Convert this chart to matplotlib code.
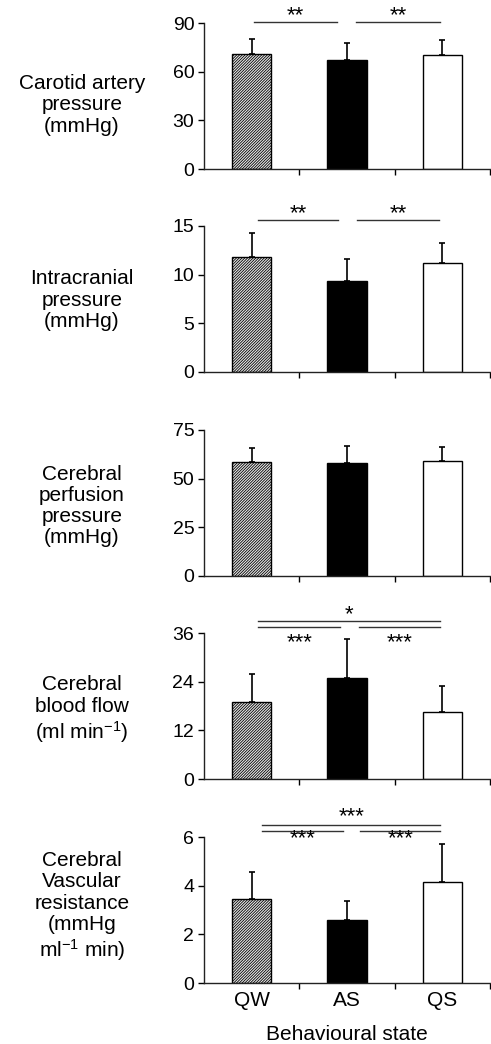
#Figura de barras: variables cerebrovasculares por estado conductual
import numpy as np
import matplotlib
matplotlib.use('Agg')
import matplotlib.pyplot as plt

plt.rcParams['font.family'] = ['Liberation Sans', 'DejaVu Sans']
plt.rcParams['mathtext.default'] = 'regular'
plt.rcParams['hatch.linewidth'] = 0.6

#datos
estados = ['QW', 'AS', 'QS']
etiquetas = ['Carotid artery\npressure\n(mmHg)',
             'Intracranial\npressure\n(mmHg)',
             'Cerebral\nperfusion\npressure\n(mmHg)',
             'Cerebral\nblood flow\n(ml min$^{-1}$)',
             'Cerebral\nVascular\nresistance\n(mmHg\nml$^{-1}$ min)']
cap = [70.8, 67.3, 70.2]
cap_err = [9.1, 10.3, 9.3]
icp = [11.8, 9.3, 11.2]
icp_err = [2.5, 2.35, 2.1]
cpp = [58.7, 58.2, 59.0]
cpp_err = [7.0, 8.7, 7.4]
cbf = [19.1, 25.0, 16.4]
cbf_err = [6.8, 9.5, 6.5]
cvr = [3.47, 2.60, 4.15]
cvr_err = [1.09, 0.77, 1.55]
yticks = [[0, 30, 60, 90], [0, 5, 10, 15], [0, 25, 50, 75], [0, 12, 24, 36], [0, 2, 4, 6]]
#comparaciones: (x1, x2, y linea, texto, y texto)
sig_cap = [(0.02, 0.90, 90.4, '**', 94.5), (1.09, 1.98, 90.4, '**', 94.5)]
sig_icp = [(0.07, 0.91, 15.6, '**', 16.3), (1.11, 1.97, 15.6, '**', 16.3)]
sig_cpp = []
sig_cbf = [(0.07, 0.93, 37.5, '***', 33.6), (1.13, 1.98, 37.5, '***', 33.6),
           (0.07, 1.98, 39.0, '*', 40.6)]
sig_cvr = [(0.11, 0.96, 6.25, '***', 5.92), (1.14, 1.98, 6.25, '***', 5.92),
           (0.11, 1.98, 6.48, '***', 6.82)]

medias = [cap, icp, cpp, cbf, cvr]
errores = [cap_err, icp_err, cpp_err, cbf_err, cvr_err]
sigs = [sig_cap, sig_icp, sig_cpp, sig_cbf, sig_cvr]

W, H = 491, 1044
fig = plt.figure(figsize=(W/100, H/100), dpi=100)
tops = [23, 226, 430, 633, 837] #borde superior de cada panel en pixeles
lab_y = [105, 300, 506, 710, 907] #centro vertical de cada etiqueta
x = np.arange(3)
for i in range(5):
    ax = fig.add_axes([204/W, 1-(tops[i]+146)/H, 286/W, 146/H])
    m, e = medias[i], errores[i]
    ax.bar(x, m, width=0.41, color=['#e8e8e8', 'black', 'white'],
           edgecolor='black', linewidth=1, hatch=['////////////', None, None], zorder=2)
    ax.errorbar(x, m, yerr=[np.zeros(3), e], fmt='none', ecolor='black',
                elinewidth=1.2, capsize=2.5, capthick=1.2, zorder=3)
    ax.set_xlim(-0.5, 2.5)
    ax.set_ylim(yticks[i][0], yticks[i][-1])
    ax.set_yticks(yticks[i])
    ax.tick_params(axis='y', labelsize=14, length=4, width=1, pad=3)
    ax.set_xticks(x)
    ax.set_xticks([0.5, 1.5, 2.5], minor=True)
    ax.tick_params(axis='x', which='major', length=0, labelsize=15, pad=6)
    ax.tick_params(axis='x', which='minor', length=4, width=1, direction='out')
    if i < 4:
        ax.set_xticklabels([])
    else:
        ax.set_xticklabels(estados)
    for s in ['top', 'right']:
        ax.spines[s].set_visible(False)
    for s in ['left', 'bottom']:
        ax.spines[s].set_linewidth(1)
        ax.spines[s].set_color('#222222')
    for x1, x2, yl, txt, yt in sigs[i]:
        ax.plot([x1, x2], [yl, yl], color='#333333', lw=1, clip_on=False)
        ax.text((x1+x2)/2, yt, txt, ha='center', va='center', fontsize=16, clip_on=False)
    fig.text(82/W, 1-lab_y[i]/H, etiquetas[i], ha='center', va='center',
             fontsize=15, linespacing=1.15)

fig.text(347/W, 1-1034/H, 'Behavioural state', ha='center', va='center', fontsize=15)
fig.savefig('out.png', dpi=100)
